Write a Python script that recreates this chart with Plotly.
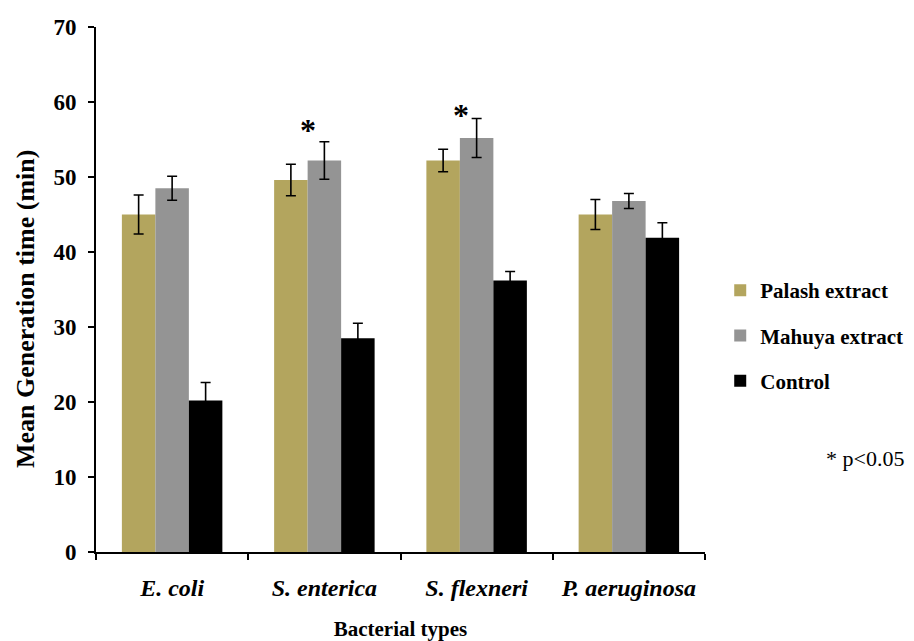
import plotly.graph_objects as go

categories = ["E. coli", "S. enterica", "S. flexneri", "P. aeruginosa"]
series_names = ["Palash extract", "Mahuya extract", "Control"]
palash = [45.0, 49.6, 52.2, 45.0]
palash_err = [2.6, 2.1, 1.5, 2.0]
mahuya = [48.5, 52.2, 55.2, 46.8]
mahuya_err = [1.6, 2.5, 2.6, 1.0]
control = [20.2, 28.5, 36.2, 41.9]
control_err = [2.4, 2.0, 1.2, 2.0]
sig_categories = ["S. enterica", "S. flexneri"]
sig_y = [56.6, 58.5]
y_ticks = [0, 10, 20, 30, 40, 50, 60, 70]

colors = ["#B3A55E", "#949494", "#000000"]
font_family = "Liberation Serif, Times New Roman, serif"

# plot area geometry (figure pixels)
L, T, W, H = 88, 19, 609, 525

fig = go.Figure()
for i, (name, vals, errs) in enumerate(zip(series_names, [palash, mahuya, control],
                                            [palash_err, mahuya_err, control_err])):
    fig.add_trace(go.Bar(
        name="<b>" + name + "</b>", x=categories, y=vals,
        marker=dict(color=colors[i], line=dict(width=0)),
        error_y=dict(type="data", array=errs, visible=True, color="black",
                     thickness=1.6, width=5),
        legendgroup=name,
    ))

for cat, yv in zip(sig_categories, sig_y):
    fig.add_annotation(x=cat, y=yv, xref="x", yref="y", text="<b>*</b>",
                       showarrow=False, xshift=-16, yshift=-2,
                       font=dict(family=font_family, size=32, color="black"))

fig.add_annotation(x=(857 - L) / W, y=(T + H - 450) / H, xref="paper", yref="paper",
                   text="* p<0.05", showarrow=False, xanchor="center", yanchor="middle",
                   font=dict(family=font_family, size=22, color="black"))

fig.add_annotation(x=(17 - L) / W, y=(T + H - 301) / H, xref="paper", yref="paper",
                   text="<b>Mean Generation time (min)</b>", textangle=-90,
                   showarrow=False, xanchor="center", yanchor="middle",
                   font=dict(family=font_family, size=26, color="black"))

fig.update_layout(
    width=906, height=633,
    margin=dict(l=L, r=906 - L - W, t=T, b=633 - T - H, autoexpand=False),
    plot_bgcolor="white", paper_bgcolor="white",
    barmode="group", bargap=0.34, bargroupgap=0,
    font=dict(family=font_family, color="black"),
    showlegend=True,
    legend=dict(x=1.025, y=0.537, xanchor="left", yanchor="top",
                font=dict(family=font_family, size=21, color="black"),
                tracegroupgap=15, itemwidth=30),
    xaxis=dict(
        tickmode="array", tickvals=categories,
        ticktext=["<b><i>" + c + "</i></b>" for c in categories],
        tickfont=dict(family=font_family, size=24, color="black"),
        showline=True, linecolor="black", linewidth=2,
        ticks="outside", tickson="boundaries", ticklen=6, tickwidth=2, tickcolor="black",
        ticklabelstandoff=13,
        title=dict(text="<b>Bacterial types</b>", font=dict(family=font_family, size=21, color="black"),
                   standoff=22),
        showgrid=False, automargin=False,
    ),
    yaxis=dict(
        range=[0, 70], tickmode="array", tickvals=y_ticks,
        ticktext=["<b>%d</b>" % t for t in y_ticks],
        tickfont=dict(family=font_family, size=23, color="black"),
        showline=True, linecolor="black", linewidth=2,
        ticks="outside", ticklen=6, tickwidth=2, tickcolor="black",
        ticklabelstandoff=7,
        showgrid=False, zeroline=False, automargin=False,
    ),
)

fig.write_html("out.html")
